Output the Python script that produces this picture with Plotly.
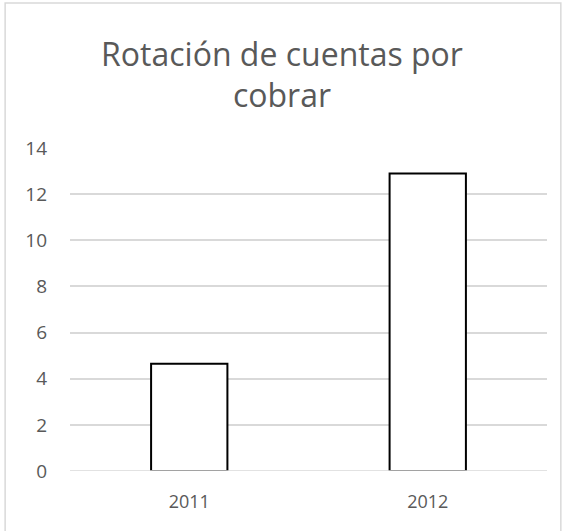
import plotly.graph_objects as go

years = ["2011", "2012"]
rotacion = [4.65, 12.9]
y_ticks = [0, 2, 4, 6, 8, 10, 12, 14]

TEXT = "#595959"
GRID = "#d9d9d9"
FONT = "Open Sans, Noto Sans, sans-serif"

fig = go.Figure(
    go.Bar(
        x=years,
        y=rotacion,
        marker=dict(color="white", line=dict(color="black", width=2)),
        width=0.32,
    )
)

fig.update_layout(
    width=564,
    height=531,
    margin=dict(l=70, r=17, t=148, b=60),
    paper_bgcolor="white",
    plot_bgcolor="white",
    showlegend=False,
    font=dict(family=FONT, color=TEXT),
    title=dict(
        text="Rotación de cuentas por<br>cobrar",
        x=0.5,
        xanchor="center",
        y=0.876,
        yanchor="top",
        font=dict(family=FONT, size=32, color=TEXT),
    ),
    shapes=[
        # chart border
        dict(type="rect", xref="paper", yref="paper",
             x0=-0.136, x1=1.029, y0=-0.2, y1=1.449,
             line=dict(color=GRID, width=1.5), layer="below"),
        # baseline drawn over the bar bottoms
        dict(type="line", xref="paper", yref="y",
             x0=0, x1=1, y0=0, y1=0,
             line=dict(color=GRID, width=1.5), layer="above"),
    ],
)

fig.update_xaxes(
    showgrid=False,
    showline=False,
    ticks="",
    tickfont=dict(size=18, color=TEXT),
    ticklabelstandoff=18,
)
fig.update_yaxes(
    range=[0, 14],
    tickvals=y_ticks,
    showgrid=True,
    gridcolor=GRID,
    gridwidth=1.5,
    zeroline=False,
    showline=False,
    ticks="",
    tickfont=dict(size=19, color=TEXT),
    ticklabelstandoff=22,
)

fig.write_html("out.html")
